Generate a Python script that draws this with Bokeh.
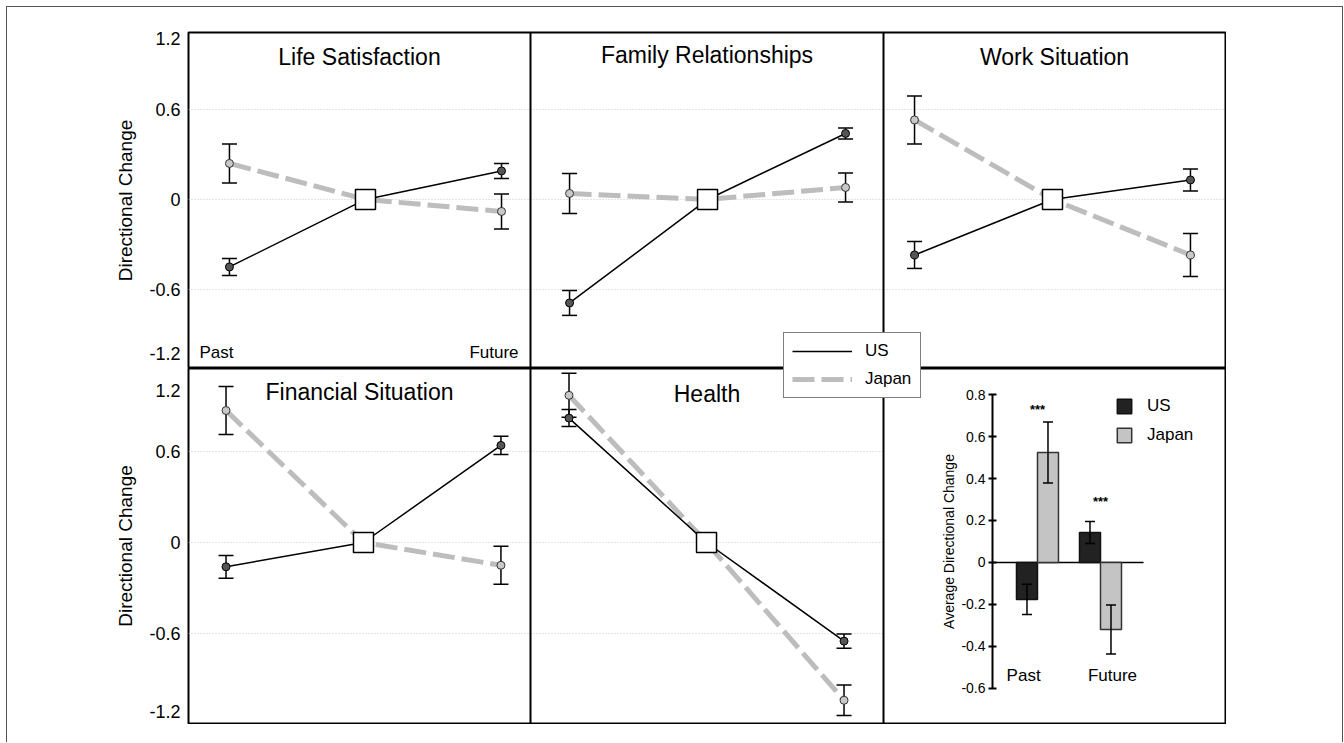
import math
from bokeh.plotting import figure
from bokeh.models import (Range1d, FixedTicker, LinearAxis, Legend, LegendItem, Whisker,
                          TeeHead, ColumnDataSource, Label, Spacer, Span)
from bokeh.layouts import row, column
from bokeh.embed import file_html
from bokeh.resources import INLINE
from bokeh.core.properties import value

FONT = "Liberation Sans"

# ---------------- data ----------------
DOMAINS = ["Life Satisfaction", "Family Relationships", "Work Situation",
           "Financial Situation", "Health"]
TIME_X = [-1, 0, 1]            # Past, reference point, Future
NOW_VALUE = 0.0
US_PAST = [-0.45, -0.69, -0.37, -0.16, 0.82]
US_PAST_ERR = [0.057, 0.083, 0.09, 0.075, 0.056]
US_FUTURE = [0.19, 0.44, 0.13, 0.64, -0.65]
US_FUTURE_ERR = [0.05, 0.037, 0.073, 0.06, 0.047]
JP_PAST = [0.24, 0.04, 0.53, 0.87, 0.97]
JP_PAST_ERR = [0.13, 0.133, 0.16, 0.158, 0.145]
JP_FUTURE = [-0.08, 0.08, -0.37, -0.15, -1.04]
JP_FUTURE_ERR = [0.117, 0.097, 0.143, 0.125, 0.10]

Y_TICK_LABELS = ["-1.2", "-0.6", "0", "0.6", "1.2"]
GRID_VALUES = [-0.6, 0, 0.6]
TIME_LABELS = ["Past", "Future"]

BAR_CATS = ["Past", "Future"]
BAR_US = [-0.176, 0.143]
BAR_US_ERR = [0.072, 0.052]
BAR_JP = [0.524, -0.319]
BAR_JP_ERR = [0.145, 0.117]
BAR_TICK_LABELS = ["-0.6", "-0.4", "-0.2", "0", "0.2", "0.4", "0.6", "0.8"]
BAR_TICKS = [-0.6, -0.4, -0.2, 0.0, 0.2, 0.4, 0.6, 0.8]
BAR_AXIS_LABEL = "Average Directional Change"
STARS = ["***", "***"]
SERIES = ["US", "Japan"]

# ---------------- layout constants ----------------
FRAME_L, FRAME_R = 188, 1225
PANEL_PX = [(188, 530), (530, 883), (883, 1225)]
TOP_TICK_POS = [-1.027, -0.6, 0.0, 0.6, 1.073]
BOT_TICK_POS = [-1.117, -0.6, 0.0, 0.6, 1.005]
Y_TOP = (-1.127, 1.113)
Y_BOT = (-1.193, 1.147)
X_RANGES = [(-1.301, 1.213), (-1.283, 1.275), (-1.225, 1.254), (-1.273, 1.215), (-1.28, 1.287)]
TITLE_Y = [0.947, 0.96, 0.947, 0.99, 0.98]
BAR_X = (-2.444, 2.984)
BAR_Y = (-0.767, 0.924)
BAR_AXIS_X = -0.714
BAR_ZERO_END = 1.683

US_LINE = "#000000"
US_FILL = "#555555"
JP_LINE = "#bdbdbd"
JP_FILL = "#c8c8c8"
US_BAR = "#222222"
JP_BAR = "#c4c4c4"
JP_DASH = "22 7"


def full_range(d, px):
    """Extend a panel's data range so that it maps onto the whole row frame."""
    d0, d1 = d
    a, b = px
    k = (d1 - d0) / (b - a)
    return Range1d(d0 - (a - FRAME_L) * k, d1 + (FRAME_R - b) * k)


def make_legend(p, us_r, jp_r, loc, labels):
    # The shared legend box straddles both rows; each row shows only its own label.
    lg = Legend(items=[LegendItem(label=labels[0], renderers=[us_r]),
                       LegendItem(label=labels[1], renderers=[jp_r])],
                location=loc, orientation="vertical", glyph_width=60, glyph_height=20,
                label_height=20, label_width=47, label_standoff=13, spacing=8, padding=8,
                margin=0, border_line_color="black", border_line_width=1.5,
                background_fill_color="white", background_fill_alpha=1.0,
                label_text_font=FONT, label_text_font_size="17px", label_text_color="black")
    p.add_layout(lg)


def row_fig(height, yr, tick_pos, extra_x, extra_y=None, **borders):
    p = figure(width=1226, height=height, x_range=Range1d(0, 1), y_range=Range1d(*yr),
               x_axis_location=None, y_axis_location=None, toolbar_location=None,
               output_backend="svg", min_border=0, min_border_left=FRAME_L,
               min_border_right=1, **borders)
    p.extra_x_ranges = extra_x
    if extra_y:
        p.extra_y_ranges = extra_y
    p.outline_line_color = "black"
    p.outline_line_width = 2
    p.grid.visible = False
    p.background_fill_color = "white"
    p.border_fill_color = None
    ax = LinearAxis(ticker=FixedTicker(ticks=tick_pos),
                    major_label_overrides={t: l for t, l in zip(tick_pos, Y_TICK_LABELS)},
                    axis_label="Directional Change")
    ax.axis_line_color = None
    ax.major_tick_line_color = None
    ax.minor_tick_line_color = None
    ax.major_tick_out = 0
    ax.major_tick_in = 0
    ax.major_label_standoff = 8
    ax.major_label_text_font = FONT
    ax.major_label_text_font_size = "18px"
    ax.major_label_text_color = "black"
    ax.axis_label_text_font = FONT
    ax.axis_label_text_font_size = "19px"
    ax.axis_label_text_font_style = "normal"
    ax.axis_label_text_color = "black"
    ax.axis_label_standoff = 10
    p.add_layout(ax, "left")
    return p


def draw_line_panel(p, i, rn, divider=True):
    d0, d1 = X_RANGES[i]
    p.segment(x0=[d0] * len(GRID_VALUES), x1=[d1] * len(GRID_VALUES), y0=GRID_VALUES,
              y1=GRID_VALUES, x_range_name=rn, line_color="#c8c8c8", line_dash="1 2",
              line_width=1, level="underlay")
    src = ColumnDataSource(dict(
        x=TIME_X,
        us=[US_PAST[i], NOW_VALUE, US_FUTURE[i]],
        jp=[JP_PAST[i], NOW_VALUE, JP_FUTURE[i]],
    ))
    jp_r = p.line("x", "jp", source=src, x_range_name=rn, line_color=JP_LINE,
                  line_width=5, line_dash=JP_DASH)
    us_r = p.line("x", "us", source=src, x_range_name=rn, line_color=US_LINE, line_width=1.5)

    ends = [TIME_X[0], TIME_X[2]]
    ys = [US_PAST[i], US_FUTURE[i], JP_PAST[i], JP_FUTURE[i]]
    es = [US_PAST_ERR[i], US_FUTURE_ERR[i], JP_PAST_ERR[i], JP_FUTURE_ERR[i]]
    err_src = ColumnDataSource(dict(
        x=ends + ends,
        upper=[y + e for y, e in zip(ys, es)],
        lower=[y - e for y, e in zip(ys, es)],
    ))
    p.add_layout(Whisker(source=err_src, base="x", upper="upper", lower="lower",
                         dimension="height", x_range_name=rn,
                         line_color="black", line_width=1.5,
                         upper_head=TeeHead(size=15, line_color="black", line_width=1.5),
                         lower_head=TeeHead(size=15, line_color="black", line_width=1.5)))

    p.scatter(ends, [US_PAST[i], US_FUTURE[i]], x_range_name=rn, marker="circle", size=8,
              fill_color=US_FILL, line_color="black", line_width=1)
    p.scatter(ends, [JP_PAST[i], JP_FUTURE[i]], x_range_name=rn, marker="circle", size=8,
              fill_color=JP_FILL, line_color="#333333", line_width=1)
    p.scatter([TIME_X[1]], [NOW_VALUE], x_range_name=rn, marker="square", size=20,
              fill_color="white", line_color="black", line_width=1.5)

    p.add_layout(Label(x=(d0 + d1) / 2, y=TITLE_Y[i], x_range_name=rn, text=DOMAINS[i],
                       text_align="center", text_baseline="middle", text_font=FONT,
                       text_font_size="23px", text_color="black"))
    if divider:
        p.add_layout(Span(location=d1, dimension="height", x_range_name=rn,
                          line_color="black", line_width=2))
    return us_r, jp_r


# ---------------- top row ----------------
top_x = {"p0": full_range(X_RANGES[0], PANEL_PX[0]),
         "p1": full_range(X_RANGES[1], PANEL_PX[1]),
         "p2": full_range(X_RANGES[2], PANEL_PX[2])}
top = row_fig(368, Y_TOP, TOP_TICK_POS, top_x, min_border_top=32, min_border_bottom=0)
draw_line_panel(top, 0, "p0")
us_t, jp_t = draw_line_panel(top, 1, "p1")
draw_line_panel(top, 2, "p2", divider=False)
top.add_layout(Label(x=-1.22, y=-1.02, x_range_name="p0", text=TIME_LABELS[0],
                     text_align="left", text_baseline="middle",
                     text_font=FONT, text_font_size="17px", text_color="black"))
top.add_layout(Label(x=1.125, y=-1.02, x_range_name="p0", text=TIME_LABELS[1],
                     text_align="right", text_baseline="middle",
                     text_font=FONT, text_font_size="17px", text_color="black"))
make_legend(top, us_t, jp_t, (783 - FRAME_L, -30), [SERIES[0], " "])

# ---------------- bottom row ----------------
bot_x = {"p3": full_range(X_RANGES[3], PANEL_PX[0]),
         "p4": full_range(X_RANGES[4], PANEL_PX[1]),
         "bar_x": full_range(BAR_X, PANEL_PX[2])}
bot = row_fig(356, Y_BOT, BOT_TICK_POS, bot_x, {"bar_y": Range1d(*BAR_Y)},
              min_border_top=0, min_border_bottom=1)
draw_line_panel(bot, 3, "p3")
us_b, jp_b = draw_line_panel(bot, 4, "p4")

# bar chart (panel 6)
BK = dict(x_range_name="bar_x", y_range_name="bar_y")
n_t = len(BAR_TICKS)
bot.segment(x0=[BAR_AXIS_X], y0=[BAR_TICKS[0]], x1=[BAR_AXIS_X], y1=[BAR_TICKS[-1]],
            line_color="black", line_width=2, **BK)
bot.scatter(x=[BAR_AXIS_X] * n_t, y=BAR_TICKS, marker="dash", size=8,
            line_color="black", line_width=2, **BK)
bot.text(x=[BAR_AXIS_X] * n_t, y=BAR_TICKS, text=BAR_TICK_LABELS, x_offset=-7,
         text_align="right", text_baseline="middle", text_font=value(FONT),
         text_font_size="14px", text_color="black", **BK)
bot.text(x=[BAR_AXIS_X], y=[(BAR_TICKS[0] + BAR_TICKS[-1]) / 2], text=[BAR_AXIS_LABEL],
         angle=math.pi / 2, x_offset=-44, text_align="center", text_baseline="middle",
         text_font=value(FONT), text_font_size="14px", text_color="black", **BK)
bot.segment(x0=[BAR_AXIS_X], y0=[0], x1=[BAR_ZERO_END], y1=[0], line_color="black",
            line_width=1.5, **BK)

OFFSET = 1 / 6
BAR_W = 1 / 3
idx = list(range(len(BAR_CATS)))
us_src = ColumnDataSource(dict(x=[k - OFFSET for k in idx], top=BAR_US,
                               upper=[v + e for v, e in zip(BAR_US, BAR_US_ERR)],
                               lower=[v - e for v, e in zip(BAR_US, BAR_US_ERR)]))
jp_src = ColumnDataSource(dict(x=[k + OFFSET for k in idx], top=BAR_JP,
                               upper=[v + e for v, e in zip(BAR_JP, BAR_JP_ERR)],
                               lower=[v - e for v, e in zip(BAR_JP, BAR_JP_ERR)]))
us_bars = bot.vbar(x="x", top="top", bottom=0, width=BAR_W, source=us_src,
                   fill_color=US_BAR, line_color="#111111", line_width=1.5, **BK)
jp_bars = bot.vbar(x="x", top="top", bottom=0, width=BAR_W, source=jp_src,
                   fill_color=JP_BAR, line_color="#333333", line_width=1.5, **BK)
for s in (us_src, jp_src):
    bot.add_layout(Whisker(source=s, base="x", upper="upper", lower="lower",
                           dimension="height", line_color="black", line_width=1.5,
                           level="overlay",
                           upper_head=TeeHead(size=10, line_color="black", line_width=1.5),
                           lower_head=TeeHead(size=10, line_color="black", line_width=1.5),
                           **BK))

STAR_Y = [0.73, 0.29]
bot.text(x=idx, y=STAR_Y, text=STARS, text_align="center", text_baseline="middle",
         text_font=value(FONT), text_font_size="13px", text_font_style="bold",
         text_color="black", **BK)
CAT_DX = [-0.22, 0.19]
bot.text(x=[k + dx for k, dx in zip(idx, CAT_DX)], y=[-0.54, -0.54], text=BAR_CATS,
         text_align="center", text_baseline="middle", text_font=value(FONT),
         text_font_size="17px", text_color="black", **BK)

bar_legend = Legend(items=[LegendItem(label=SERIES[0], renderers=[us_bars]),
                           LegendItem(label=SERIES[1], renderers=[jp_bars])],
                    location=(1115 - FRAME_L, 278), glyph_width=18, glyph_height=18,
                    label_height=18, label_standoff=14, spacing=9, padding=0, margin=0,
                    border_line_color=None, background_fill_alpha=0,
                    label_text_font=FONT, label_text_font_size="17px", label_text_color="black")
bot.add_layout(bar_legend)
make_legend(bot, us_b, jp_b, (783 - FRAME_L, 325), [" ", SERIES[1]])

grid = column(top, bot)
root = row(grid, Spacer(width=117, height=742),
           styles={"box-shadow": "inset 6px 6px 0 0 #ffffff, inset 7px 7px 0 0 #555555, "
                                 "inset -1px 0 0 0 #555555"})

open("out.html", "w").write(file_html(root, INLINE))
